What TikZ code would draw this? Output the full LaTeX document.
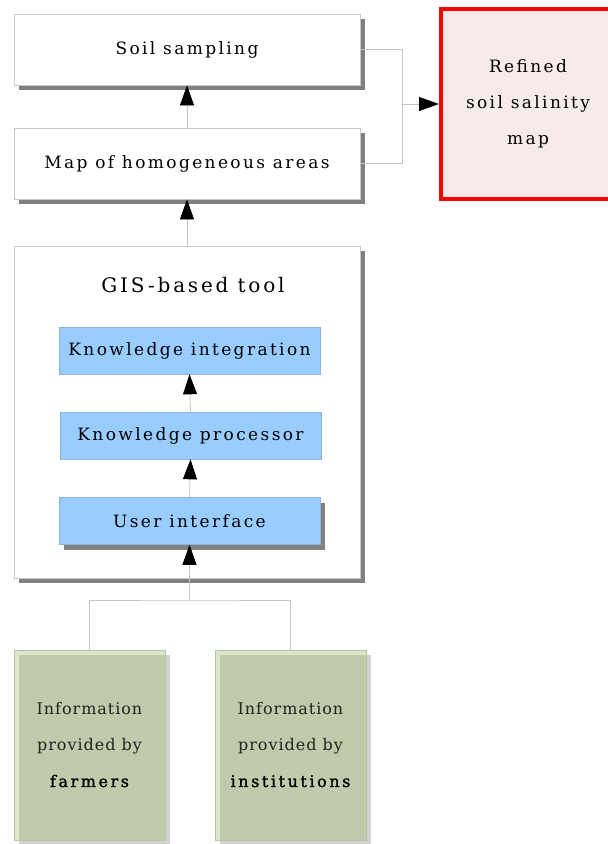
\documentclass[tikz,border=0pt]{standalone}
\usepackage{fontspec}
\setmainfont{DejaVu Serif}
\newfontfamily\boxface{DejaVu Serif}[LetterSpace=14]
\newfontfamily\titleface{DejaVu Serif}[LetterSpace=14]
\newfontfamily\liteface{DejaVu Serif}[LetterSpace=6]
\newfontfamily\heavyface{DejaVu Serif}[FakeBold=1.2,LetterSpace=16]
\usetikzlibrary{arrows.meta,shadows}

\definecolor{framegray}{HTML}{C8C8C8}
\definecolor{shadowgray}{HTML}{808080}
\definecolor{linegray}{HTML}{C4C4C4}
\definecolor{bluefill}{HTML}{99CCFF}
\definecolor{blueedge}{HTML}{8CB4DA}
\definecolor{rededge}{HTML}{FF0000}
\definecolor{pinkfill}{HTML}{F7EAEA}
\definecolor{greenlight}{HTML}{DCE7C9}
\definecolor{greendark}{HTML}{BFCBAA}
\definecolor{greenedge}{HTML}{B8C2A6}
\definecolor{softshadow}{HTML}{D2D2D2}
\definecolor{inkgray}{HTML}{222222}

\tikzset{
  hardshadow/.style={general shadow={fill=shadowgray, shadow xshift=5pt, shadow yshift=-5pt}},
  whitebox/.style={draw=framegray, fill=white, line width=0.8pt, inner sep=0pt,
    minimum width=346pt, minimum height=71pt, hardshadow,
    font=\fontsize{17}{21}\boxface},
  gisbox/.style={draw=framegray, fill=white, line width=0.8pt, inner sep=0pt,
    minimum width=346pt, minimum height=332pt, hardshadow},
  gistitle/.style={inner sep=0pt, font=\fontsize{20}{24}\titleface},
  bluebox/.style={draw=blueedge, fill=bluefill, line width=0.6pt, inner sep=0pt,
    minimum width=261pt, minimum height=47pt, font=\fontsize{17}{21}\boxface},
  resultbox/.style={draw=rededge, fill=pinkfill, line width=4pt, inner sep=0pt,
    minimum width=174pt, minimum height=190pt, align=center,
    font=\fontsize{17}{36}\boxface},
  sourcebox/.style={draw=greenedge, fill=greenlight, line width=0.8pt, inner sep=0pt,
    minimum width=151pt, minimum height=190pt, align=center, text=inkgray,
    font=\fontsize{16}{36}\liteface,
    general shadow={fill=softshadow, shadow xshift=5pt, shadow yshift=-5pt},
    path picture={\fill[greendark]
      ([shift={(5pt,-5pt)}]path picture bounding box.north west)
      rectangle (path picture bounding box.south east);}},
  conn/.style={draw=linegray, line width=0.8pt},
  flow/.style={conn, -{Triangle[length=20pt,width=14pt,color=black,fill=black]}},
}

\begin{document}
\begin{tikzpicture}[x=1pt,y=-1pt]
  \fill[white] (0,0) rectangle (608,844);
  \useasboundingbox (0,0) rectangle (608,844);

  % upper chain
  \node[whitebox] (soil) at (187,49.5) {Soil sampling};
  \node[whitebox] (homog) at (187,163.5) {Map of homogeneous areas};
  \node[resultbox] (refined) at (528,104) {Refined\\soil salinity\\map};

  % GIS-based tool and its components
  \node[gisbox] (gis) at (187,412) {};
  \node[gistitle] (gistool) at (193,285) {GIS-based tool};
  \node[bluebox] (integ) at (189.5,350.5) {Knowledge integration};
  \node[bluebox] (proc) at (190.5,435.5) {Knowledge processor};
  \node[bluebox, hardshadow] (ui) at (189.5,521) {User interface};

  % information sources
  \node[sourcebox] (farmers) at (89.5,745)
    {Information\\provided by\\{\heavyface\color{black}farmers}};
  \node[sourcebox] (inst) at (290.5,745)
    {Information\\provided by\\{\heavyface\color{black}institutions}};

  % connectors
  \coordinate (merge) at (402,104);
  \coordinate (gather) at (189.5,600);
  \draw[conn] (soil.east) -| (merge);
  \draw[conn] (homog.east) -| (merge);
  \draw[flow] (merge) -- (refined.west);
  \draw[flow] (homog.north) -- (soil.south);
  \draw[flow] (gis.north) -- (homog.south);
  \draw[flow] (proc.north) -- (integ.south);
  \draw[flow] (ui.north) -- (proc.south);
  \draw[conn] (farmers.north) |- (gather) -| (inst.north);
  \draw[flow] (gather) -- (ui.south);
\end{tikzpicture}
\end{document}
